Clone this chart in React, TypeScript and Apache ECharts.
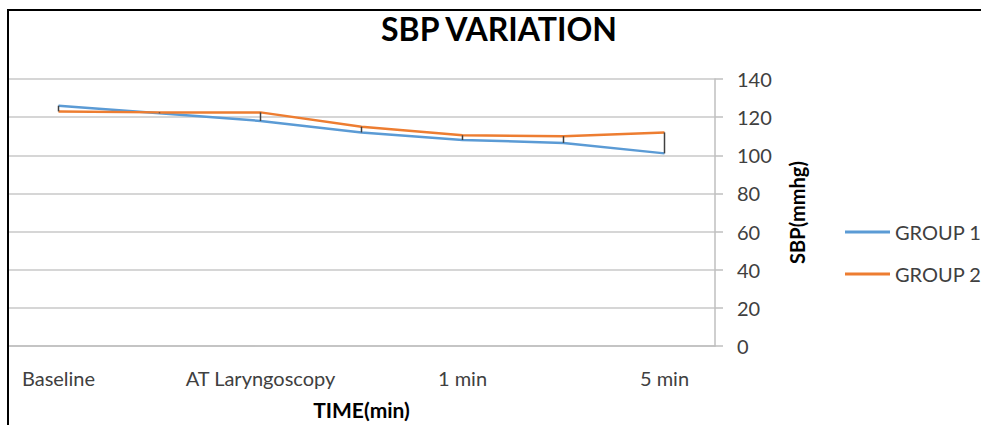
import React, { useEffect, useRef } from "react";
import * as echarts from "echarts";

const categories = ["Baseline", "T1", "AT Laryngoscopy", "T3", "1 min", "T5", "5 min"];
const group1 = [126, 122, 118, 112, 108, 106.5, 101];
const group2 = [123, 122.5, 122.5, 115, 110.5, 110, 112];
const yMin = 0;
const yMax = 140;
const yStep = 20;

const FONT = "Lato";

export default function App() {
  const ref = useRef<HTMLDivElement>(null);

  useEffect(() => {
    document.body.style.margin = "0";
    if (!ref.current) return;
    const chart = echarts.init(ref.current, null, { renderer: "svg" });
    const drops = categories.map((_, i) => [i, Math.min(group1[i], group2[i]), Math.max(group1[i], group2[i])]);
    chart.setOption({
      animation: false,
      backgroundColor: "#ffffff",
      textStyle: { fontFamily: FONT },
      title: {
        text: "SBP VARIATION",
        left: 494,
        textAlign: "center",
        top: 7,
        textStyle: { fontFamily: FONT, fontSize: 32, fontWeight: "bold", color: "#000000" },
      },
      graphic: [
        {
          type: "polyline",
          shape: { points: [[8, 425], [8, 10], [981, 10]] },
          style: { stroke: "#000000", lineWidth: 2, fill: "none" },
          z: 100,
        },
      ],
      legend: {
        orient: "vertical",
        left: 840,
        top: 217,
        itemWidth: 45,
        itemHeight: 3,
        itemGap: 22,
        icon: "rect",
        textStyle: { fontFamily: FONT, fontSize: 20, color: "#404040" },
        data: ["GROUP 1", "GROUP 2"],
      },
      grid: { left: 8, right: 266, top: 79, bottom: 78, containLabel: false },
      xAxis: {
        type: "category",
        data: categories,
        boundaryGap: true,
        name: "TIME(min)",
        nameLocation: "middle",
        nameGap: 53,
        nameTextStyle: { fontFamily: FONT, fontSize: 21, fontWeight: "bold", color: "#000000" },
        axisLine: { show: true, lineStyle: { color: "#BFBFBF", width: 1.5 } },
        axisTick: { show: false },
        axisLabel: { interval: 1, margin: 22, fontFamily: FONT, fontSize: 20, color: "#404040" },
      },
      yAxis: {
        type: "value",
        position: "right",
        min: yMin,
        max: yMax,
        interval: yStep,
        name: "SBP(mmhg)",
        nameLocation: "middle",
        nameGap: 72,
        nameRotate: 90,
        nameTextStyle: { fontFamily: FONT, fontSize: 20, fontWeight: "bold", color: "#000000" },
        axisLine: { show: true, lineStyle: { color: "#BFBFBF", width: 1.5 } },
        axisTick: { show: true, inside: false, length: 8, lineStyle: { color: "#BFBFBF", width: 1.5 } },
        axisLabel: { margin: 22, fontFamily: FONT, fontSize: 20, color: "#404040" },
        splitLine: { show: true, lineStyle: { color: "#C8C8C8", width: 1.5 } },
      },
      series: [
        {
          name: "GROUP 1",
          type: "line",
          data: group1,
          symbol: "none",
          color: "#5B9BD5",
          lineStyle: { width: 2.5, color: "#5B9BD5" },
          z: 3,
        },
        {
          name: "GROUP 2",
          type: "line",
          data: group2,
          symbol: "none",
          color: "#ED7D31",
          lineStyle: { width: 2.5, color: "#ED7D31" },
          z: 3,
        },
        {
          name: "drops",
          type: "custom",
          data: drops,
          z: 4,
          renderItem: (_params: any, api: any) => {
            const p1 = api.coord([api.value(0), api.value(1)]);
            const p2 = api.coord([api.value(0), api.value(2)]);
            return {
              type: "line",
              shape: { x1: p1[0], y1: p1[1], x2: p2[0], y2: p2[1] },
              style: { stroke: "#404040", lineWidth: 1.5 },
            };
          },
        },
      ],
    });
    return () => chart.dispose();
  }, []);

  return <div ref={ref} style={{ width: 981, height: 425 }} />;
}
